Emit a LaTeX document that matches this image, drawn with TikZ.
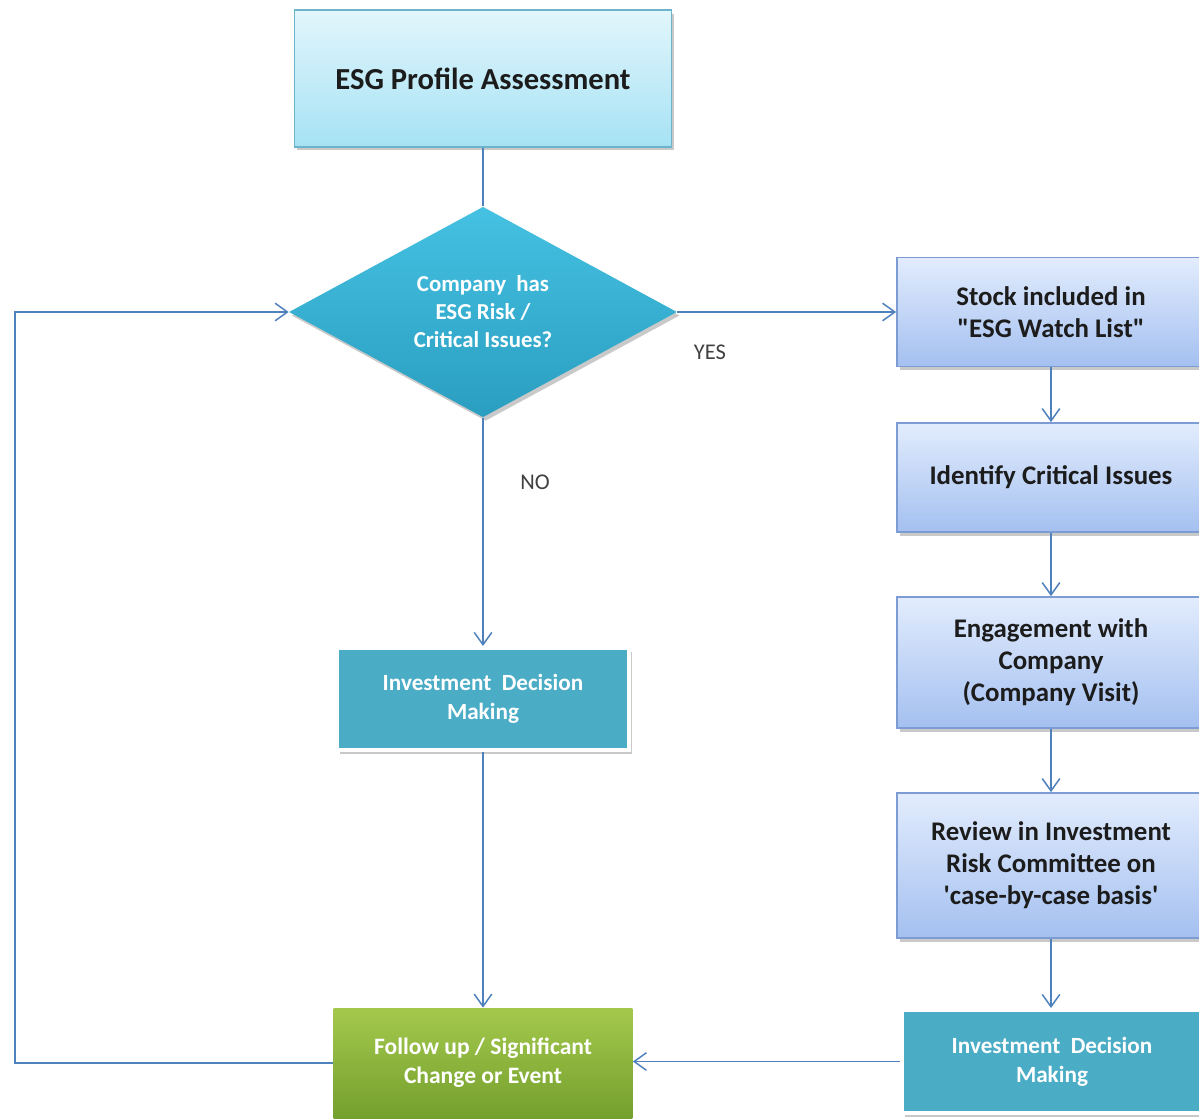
\documentclass[tikz,border=0pt]{standalone}
\usepackage{fontspec}
\setmainfont{Carlito}[Ligatures=TeXOff]
\usetikzlibrary{shapes.geometric,arrows.meta,shadows}
\definecolor{linec}{HTML}{4F81BD}
\definecolor{topA}{HTML}{E2F6FC}
\definecolor{topB}{HTML}{A6E2F4}
\definecolor{topD}{HTML}{6DB3C9}
\definecolor{diaA}{HTML}{45C1E2}
\definecolor{diaB}{HTML}{2A9EC0}
\definecolor{bluA}{HTML}{E2ECFD}
\definecolor{bluB}{HTML}{A4C0F0}
\definecolor{bluD}{HTML}{7D9CD4}
\definecolor{tealc}{HTML}{4BACC6}
\definecolor{grnA}{HTML}{A4C84C}
\definecolor{grnB}{HTML}{74A02E}
\definecolor{txt}{HTML}{1C1C1C}
\definecolor{lbl}{HTML}{404040}
\tikzset{
  conn/.style={draw=linec, line width=0.85pt},
  arr/.style={conn, -{Straight Barb[length=7pt,width=10pt,line width=0.85pt]}},
  sh/.style={drop shadow={opacity=0.35, shadow xshift=1.5pt, shadow yshift=-2pt, fill=black!60}},
  topbox/.style={rectangle, draw=topD, line width=1pt, top color=topA, bottom color=topB, sh,
    font=\fontsize{17.4}{20}\selectfont\bfseries, text=txt, align=center, inner sep=0pt},
  bluebox/.style={rectangle, draw=bluD, line width=1pt, top color=bluA, bottom color=bluB, sh,
    font=\fontsize{15.3}{18.3}\selectfont\bfseries, text=txt, align=center, inner sep=0pt},
  tealbox/.style={rectangle, draw=white, line width=2.3pt, fill=tealc, sh,
    font=\fontsize{13.2}{16.4}\selectfont\bfseries, text=white, align=center, inner sep=0pt},
  grnbox/.style={rectangle, draw=none, top color=grnA, bottom color=grnB,
    font=\fontsize{13.4}{16.4}\selectfont\bfseries, text=white, align=center, inner sep=0pt},
  decision/.style={diamond, draw=none, top color=diaA, bottom color=diaB, sh,
    font=\fontsize{13}{15.9}\selectfont\bfseries, text=white, align=center, inner sep=0pt},
  lab/.style={font=\fontsize{12.8}{14}\selectfont, text=lbl},
}
\begin{document}
\begin{tikzpicture}[x=0.02cm,y=-0.02cm]
\useasboundingbox (0,0) rectangle (1199,1118);
\clip (0,0) rectangle (1199,1118);
\fill[white] (0,0) rectangle (1199,1118);

\node[topbox, minimum width=7.54cm, minimum height=2.74cm] (top) at (483,78.5) {ESG Profile Assessment};
\node[decision, minimum width=7.76cm, minimum height=4.16cm] (dia) at (483,312) {Company~ has\\ESG Risk /\\Critical Issues?};

\node[bluebox, minimum width=6.16cm, minimum height=2.18cm] (stock) at (1051,312) {Stock included in\\"ESG Watch List"};
\node[bluebox, minimum width=6.16cm, minimum height=2.18cm] (ident) at (1051,477.5) {Identify Critical Issues};
\node[bluebox, minimum width=6.16cm, minimum height=2.62cm] (engage) at (1051,662.5) {Engagement with\\Company\\(Company Visit)};
\node[bluebox, minimum width=6.16cm, minimum height=2.9cm] (review) at (1051,865.5) {Review in Investment\\Risk Committee on\\'case-by-case basis'};
\node[tealbox, minimum width=6.0cm, minimum height=2.06cm] (idmr) at (1052,1061.5) {Investment~ Decision\\Making};

\node[tealbox, minimum width=5.84cm, minimum height=2.04cm] (idml) at (483,699) {Investment~ Decision\\Making};
\node[grnbox, minimum width=5.98cm, minimum height=2.2cm] (follow) at (483,1063) {Follow up / Significant\\Change or Event};

\node[lab] (yes) at (710,352) {YES};
\node[lab] (no) at (535,482) {NO};

\draw[conn] (top.south) -- (dia.north);
\draw[arr] (dia.east) -- (stock.west);
\draw[arr] (dia.south) -- (idml.north);
\draw[arr] (idml.south) -- (follow.north);
\draw[arr] (stock.south) -- (ident.north);
\draw[arr] (ident.south) -- (engage.north);
\draw[arr] (engage.south) -- (review.north);
\draw[arr] (review.south) -- (review.south |- idmr.north);
\draw[arr] (idmr.west) -- (idmr.west -| follow.east);
\coordinate (loop) at (15,1063);
\draw[arr] (follow.west) -- (loop) |- (dia.west);
\end{tikzpicture}
\end{document}
